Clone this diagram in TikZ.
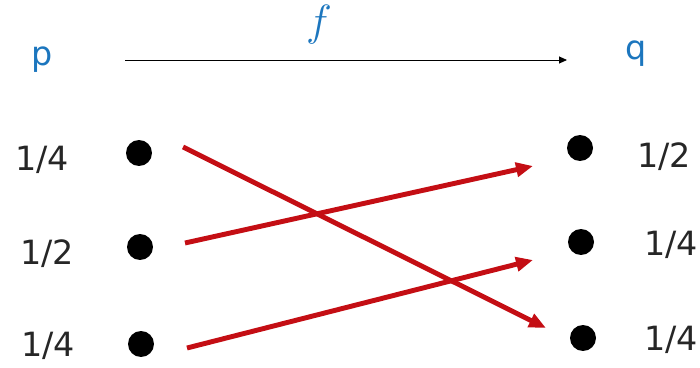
\documentclass[tikz,border=0pt]{standalone}
\usepackage{fontspec}
\setmainfont{DejaVu Sans}
\usetikzlibrary{arrows.meta}
\definecolor{LabelBlue}{RGB}{28,118,190}
\definecolor{MapRed}{RGB}{196,14,20}
\tikzset{
  ptdot/.style={circle,fill=black,inner sep=0pt,minimum size=0.52cm},
  prob/.style={font=\fontsize{19}{22}\selectfont,text=black!85,inner sep=0pt},
  setname/.style={font=\fontsize{19}{22}\selectfont,text=LabelBlue,inner sep=0pt},
  maparrow/.style={-{Triangle[length=3.4mm,width=2.8mm]},line width=2.8pt,draw=MapRed},
  funarrow/.style={-{Triangle[length=1.6mm,width=1.4mm]},line width=0.5pt}
}

\begin{document}
\begin{tikzpicture}[x=0.02cm,y=-0.02cm]
  \useasboundingbox (0,0) rectangle (700,368);
  % top row
  \node[setname] (p) at (42,60) {p};
  \node[setname] (q) at (636,54) {q};
  \node[setname,font=\fontsize{27}{30}\selectfont] (f) at (319,25) {$f$};
  \coordinate (fs) at (125,60);
  \coordinate (fe) at (567,60);
  \draw[funarrow] (fs) -- (fe);
  % left points
  \node[ptdot] (l1) at (139,153) {};
  \node[ptdot] (l2) at (140,247) {};
  \node[ptdot] (l3) at (141,344) {};
  \node[prob] (lp1) at (42,160) {1/4};
  \node[prob] (lp2) at (47,254) {1/2};
  \node[prob] (lp3) at (48,346) {1/4};
  % right points
  \node[ptdot] (r1) at (580,148) {};
  \node[ptdot] (r2) at (581,242) {};
  \node[ptdot] (r3) at (583,338) {};
  \node[prob] (rp1) at (664,157) {1/2};
  \node[prob] (rp2) at (671,245) {1/4};
  \node[prob] (rp3) at (671,340) {1/4};
  % map
  \coordinate (a1) at (183,147);
  \coordinate (b1) at (546,328);
  \coordinate (a2) at (185,243);
  \coordinate (b2) at (533,166);
  \coordinate (a3) at (187,348);
  \coordinate (b3) at (533,260);
  \draw[maparrow] (a1) -- (b1);
  \draw[maparrow] (a2) -- (b2);
  \draw[maparrow] (a3) -- (b3);
\end{tikzpicture}
\end{document}
